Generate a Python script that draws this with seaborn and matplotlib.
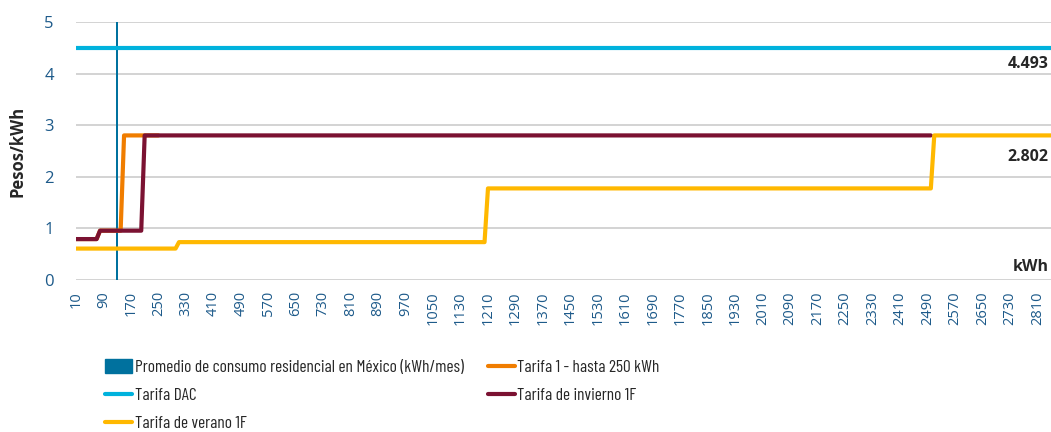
import numpy as np
import pandas as pd
import matplotlib
matplotlib.use("Agg")
import matplotlib.pyplot as plt
from matplotlib.lines import Line2D
from matplotlib.patches import Patch
import seaborn as sns

## Data (kWh consumption, pesos per kWh)
kwh = list(range(10, 2860, 10))
promedio_kwh = 130
tarifa_dac = [4.493] * 285
tarifa_1 = [0.793] * 7 + [0.956] * 7 + [2.802] * 11
tarifa_invierno_1f = [0.793] * 7 + [0.956] * 13 + [2.802] * 230
tarifa_verano_1f = [0.609] * 30 + [0.734] * 90 + [1.775] * 130 + [2.802] * 35
tick_labels = list(range(10, 2860, 80))

names = ["Tarifa 1 - hasta 250 kWh", "Tarifa DAC", "Tarifa de invierno 1F", "Tarifa de verano 1F"]
series = [tarifa_1, tarifa_dac, tarifa_invierno_1f, tarifa_verano_1f]
colors = {"Tarifa 1 - hasta 250 kWh": "#f07d00",
          "Tarifa DAC": "#00b2dd",
          "Tarifa de invierno 1F": "#7b1232",
          "Tarifa de verano 1F": "#ffb800"}
bar_color = "#00719e"
tick_color = "#1d5a8a"

frames = []
for name, vals in zip(names, series):
    frames.append(pd.DataFrame({"kWh": kwh[:len(vals)], "Pesos": vals, "Tarifa": name}))
df = pd.concat(frames, ignore_index=True)

sns.set_style("white")
plt.rcParams["font.family"] = ["Open Sans", "DejaVu Sans"]

fig = plt.figure(figsize=(10.51, 4.32), dpi=100)
ax = fig.add_axes([76 / 1051, 1 - 280 / 432, 975 / 1051, 258 / 432])

ax.bar([promedio_kwh], [5], width=7, color=bar_color, linewidth=0, zorder=1)
sns.lineplot(data=df, x="kWh", y="Pesos", hue="Tarifa", hue_order=names,
             palette=colors, linewidth=3, estimator=None, sort=False,
             legend=False, ax=ax, zorder=3)

ax.set_xlim(10, 2850)
ax.set_ylim(0, 5)
ax.set_yticks([0, 1, 2, 3, 4, 5])
ax.set_xticks(tick_labels)
ax.set_xticklabels([str(t) for t in tick_labels], rotation=90)
ax.tick_params(axis="x", length=0, pad=8, labelsize=10.5, labelcolor=tick_color)
ax.tick_params(axis="y", length=0, pad=16, labelsize=12, labelcolor=tick_color)
ax.grid(axis="y", color="#d0d0d0", linewidth=1.3, zorder=0)
ax.set_axisbelow(True)
for s in ax.spines.values():
    s.set_visible(False)
ax.set_xlabel("")
ax.set_ylabel("Pesos/kWh", fontsize=12, fontweight="bold", labelpad=13)

# value labels at right
ax.annotate(f"{tarifa_dac[-1]:.3f}", (kwh[-1], tarifa_dac[-1]), xytext=(-2, -6),
            textcoords="offset points", ha="right", va="top",
            fontsize=11.5, fontweight="bold")
ax.annotate(f"{tarifa_verano_1f[-1]:.3f}", (kwh[-1], tarifa_verano_1f[-1]), xytext=(-2, -10),
            textcoords="offset points", ha="right", va="top",
            fontsize=11.5, fontweight="bold")
ax.text(0.998, 0.05, "kWh", transform=ax.transAxes, ha="right", va="center",
        fontsize=11.5, fontweight="bold")

handles = [Patch(color=bar_color),
           Line2D([0], [0], color=colors["Tarifa DAC"], lw=3, solid_capstyle="round"),
           Line2D([0], [0], color=colors["Tarifa de verano 1F"], lw=3, solid_capstyle="round"),
           Line2D([0], [0], color=colors["Tarifa 1 - hasta 250 kWh"], lw=3, solid_capstyle="round"),
           Line2D([0], [0], color=colors["Tarifa de invierno 1F"], lw=3, solid_capstyle="round")]
labels = ["Promedio de consumo residencial en México (kWh/mes)", "Tarifa DAC",
          "Tarifa de verano 1F", "Tarifa 1 - hasta 250 kWh", "Tarifa de invierno 1F"]
fig.legend(handles, labels, ncol=2, loc="upper left",
           bbox_to_anchor=(105 / 1051, 1 - 359 / 432), frameon=False,
           prop={"family": ["Barlow Condensed", "DejaVu Sans"], "size": 12.5, "weight": "normal"},
           handlelength=1.55, handleheight=0.9, handletextpad=0.15,
           labelspacing=0.68, columnspacing=1.4, borderpad=0, borderaxespad=0)

fig.savefig("out.png", dpi=100)
